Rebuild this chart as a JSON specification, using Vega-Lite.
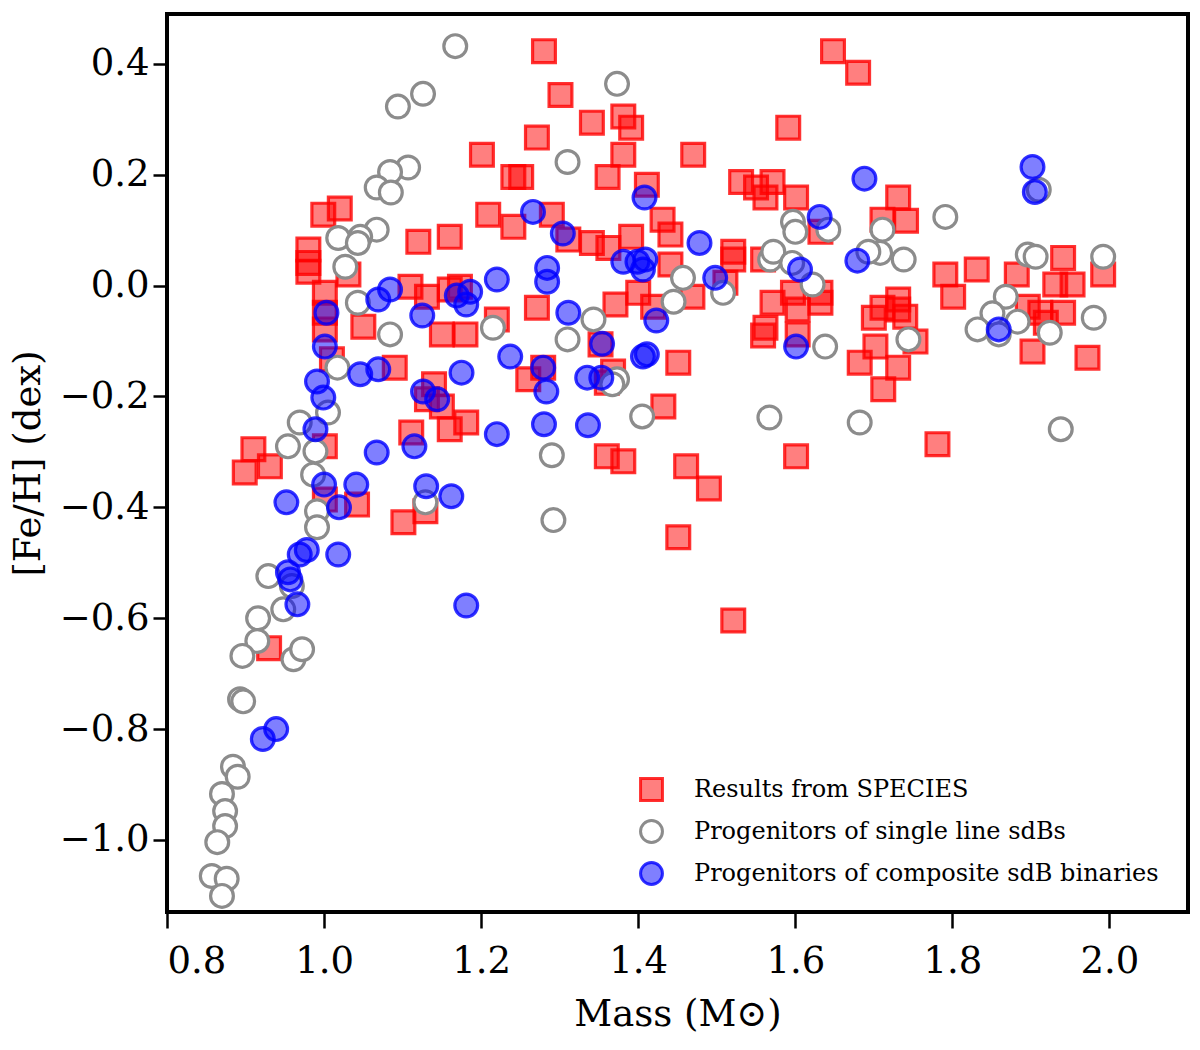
{
  "$schema": "https://vega.github.io/schema/vega-lite/v6.json",
  "description": "Mass vs [Fe/H] for SPECIES results and sdB progenitors",
  "autosize": {"type": "none"},
  "padding": {"left": 167, "top": 14, "right": 12, "bottom": 138},
  "width": 1021,
  "height": 898,
  "background": "white",
  "data": {
    "values": [
      {"group": "Results from SPECIES", "mass": 1.280, "feh": 0.423},
      {"group": "Results from SPECIES", "mass": 1.648, "feh": 0.423},
      {"group": "Results from SPECIES", "mass": 1.680, "feh": 0.384},
      {"group": "Results from SPECIES", "mass": 1.301, "feh": 0.344},
      {"group": "Results from SPECIES", "mass": 1.341, "feh": 0.294},
      {"group": "Results from SPECIES", "mass": 1.381, "feh": 0.305},
      {"group": "Results from SPECIES", "mass": 1.391, "feh": 0.285},
      {"group": "Results from SPECIES", "mass": 1.271, "feh": 0.267},
      {"group": "Results from SPECIES", "mass": 1.591, "feh": 0.285},
      {"group": "Results from SPECIES", "mass": 1.201, "feh": 0.236},
      {"group": "Results from SPECIES", "mass": 1.381, "feh": 0.236},
      {"group": "Results from SPECIES", "mass": 1.470, "feh": 0.236},
      {"group": "Results from SPECIES", "mass": 1.361, "feh": 0.196},
      {"group": "Results from SPECIES", "mass": 1.241, "feh": 0.196},
      {"group": "Results from SPECIES", "mass": 1.251, "feh": 0.196},
      {"group": "Results from SPECIES", "mass": 1.411, "feh": 0.182},
      {"group": "Results from SPECIES", "mass": 1.531, "feh": 0.187},
      {"group": "Results from SPECIES", "mass": 1.550, "feh": 0.177},
      {"group": "Results from SPECIES", "mass": 1.571, "feh": 0.187},
      {"group": "Results from SPECIES", "mass": 1.562, "feh": 0.159},
      {"group": "Results from SPECIES", "mass": 1.601, "feh": 0.159},
      {"group": "Results from SPECIES", "mass": 1.731, "feh": 0.159},
      {"group": "Results from SPECIES", "mass": 1.711, "feh": 0.119},
      {"group": "Results from SPECIES", "mass": 1.741, "feh": 0.117},
      {"group": "Results from SPECIES", "mass": 1.209, "feh": 0.128},
      {"group": "Results from SPECIES", "mass": 1.241, "feh": 0.106},
      {"group": "Results from SPECIES", "mass": 1.290, "feh": 0.128},
      {"group": "Results from SPECIES", "mass": 1.431, "feh": 0.119},
      {"group": "Results from SPECIES", "mass": 1.441, "feh": 0.092},
      {"group": "Results from SPECIES", "mass": 1.311, "feh": 0.083},
      {"group": "Results from SPECIES", "mass": 1.341, "feh": 0.077},
      {"group": "Results from SPECIES", "mass": 1.362, "feh": 0.068},
      {"group": "Results from SPECIES", "mass": 1.391, "feh": 0.088},
      {"group": "Results from SPECIES", "mass": 1.521, "feh": 0.061},
      {"group": "Results from SPECIES", "mass": 1.521, "feh": 0.047},
      {"group": "Results from SPECIES", "mass": 1.441, "feh": 0.038},
      {"group": "Results from SPECIES", "mass": 1.559, "feh": 0.047},
      {"group": "Results from SPECIES", "mass": 1.632, "feh": 0.097},
      {"group": "Results from SPECIES", "mass": 1.271, "feh": -0.040},
      {"group": "Results from SPECIES", "mass": 1.371, "feh": -0.034},
      {"group": "Results from SPECIES", "mass": 1.400, "feh": -0.013},
      {"group": "Results from SPECIES", "mass": 1.419, "feh": -0.038},
      {"group": "Results from SPECIES", "mass": 1.469, "feh": -0.020},
      {"group": "Results from SPECIES", "mass": 1.511, "feh": 0.005},
      {"group": "Results from SPECIES", "mass": 1.571, "feh": -0.031},
      {"group": "Results from SPECIES", "mass": 1.597, "feh": -0.013},
      {"group": "Results from SPECIES", "mass": 1.603, "feh": -0.043},
      {"group": "Results from SPECIES", "mass": 1.632, "feh": -0.031},
      {"group": "Results from SPECIES", "mass": 1.632, "feh": -0.013},
      {"group": "Results from SPECIES", "mass": 1.562, "feh": -0.076},
      {"group": "Results from SPECIES", "mass": 1.559, "feh": -0.090},
      {"group": "Results from SPECIES", "mass": 1.603, "feh": -0.088},
      {"group": "Results from SPECIES", "mass": 1.220, "feh": -0.061},
      {"group": "Results from SPECIES", "mass": 0.999, "feh": 0.128},
      {"group": "Results from SPECIES", "mass": 1.020, "feh": 0.139},
      {"group": "Results from SPECIES", "mass": 1.120, "feh": 0.079},
      {"group": "Results from SPECIES", "mass": 1.160, "feh": 0.088},
      {"group": "Results from SPECIES", "mass": 0.980, "feh": 0.065},
      {"group": "Results from SPECIES", "mass": 0.980, "feh": 0.041},
      {"group": "Results from SPECIES", "mass": 0.980, "feh": 0.025},
      {"group": "Results from SPECIES", "mass": 1.031, "feh": 0.020},
      {"group": "Results from SPECIES", "mass": 1.001, "feh": -0.013},
      {"group": "Results from SPECIES", "mass": 1.110, "feh": -0.002},
      {"group": "Results from SPECIES", "mass": 1.131, "feh": -0.020},
      {"group": "Results from SPECIES", "mass": 1.160, "feh": -0.007},
      {"group": "Results from SPECIES", "mass": 1.173, "feh": -0.002},
      {"group": "Results from SPECIES", "mass": 1.001, "feh": -0.049},
      {"group": "Results from SPECIES", "mass": 1.001, "feh": -0.079},
      {"group": "Results from SPECIES", "mass": 1.050, "feh": -0.074},
      {"group": "Results from SPECIES", "mass": 1.010, "feh": -0.133},
      {"group": "Results from SPECIES", "mass": 1.090, "feh": -0.148},
      {"group": "Results from SPECIES", "mass": 1.150, "feh": -0.088},
      {"group": "Results from SPECIES", "mass": 1.180, "feh": -0.088},
      {"group": "Results from SPECIES", "mass": 1.140, "feh": -0.178},
      {"group": "Results from SPECIES", "mass": 1.131, "feh": -0.205},
      {"group": "Results from SPECIES", "mass": 1.150, "feh": -0.218},
      {"group": "Results from SPECIES", "mass": 1.160, "feh": -0.259},
      {"group": "Results from SPECIES", "mass": 1.181, "feh": -0.247},
      {"group": "Results from SPECIES", "mass": 1.111, "feh": -0.265},
      {"group": "Results from SPECIES", "mass": 1.001, "feh": -0.290},
      {"group": "Results from SPECIES", "mass": 0.910, "feh": -0.295},
      {"group": "Results from SPECIES", "mass": 0.931, "feh": -0.326},
      {"group": "Results from SPECIES", "mass": 0.899, "feh": -0.337},
      {"group": "Results from SPECIES", "mass": 1.042, "feh": -0.395},
      {"group": "Results from SPECIES", "mass": 1.001, "feh": -0.386},
      {"group": "Results from SPECIES", "mass": 1.101, "feh": -0.427},
      {"group": "Results from SPECIES", "mass": 1.129, "feh": -0.407},
      {"group": "Results from SPECIES", "mass": 0.930, "feh": -0.654},
      {"group": "Results from SPECIES", "mass": 1.279, "feh": -0.148},
      {"group": "Results from SPECIES", "mass": 1.260, "feh": -0.169},
      {"group": "Results from SPECIES", "mass": 1.352, "feh": -0.106},
      {"group": "Results from SPECIES", "mass": 1.368, "feh": -0.155},
      {"group": "Results from SPECIES", "mass": 1.360, "feh": -0.175},
      {"group": "Results from SPECIES", "mass": 1.451, "feh": -0.139},
      {"group": "Results from SPECIES", "mass": 1.432, "feh": -0.218},
      {"group": "Results from SPECIES", "mass": 1.360, "feh": -0.308},
      {"group": "Results from SPECIES", "mass": 1.381, "feh": -0.317},
      {"group": "Results from SPECIES", "mass": 1.461, "feh": -0.326},
      {"group": "Results from SPECIES", "mass": 1.490, "feh": -0.366},
      {"group": "Results from SPECIES", "mass": 1.601, "feh": -0.308},
      {"group": "Results from SPECIES", "mass": 1.451, "feh": -0.454},
      {"group": "Results from SPECIES", "mass": 1.521, "feh": -0.604},
      {"group": "Results from SPECIES", "mass": 1.791, "feh": 0.020},
      {"group": "Results from SPECIES", "mass": 1.831, "feh": 0.029},
      {"group": "Results from SPECIES", "mass": 1.801, "feh": -0.020},
      {"group": "Results from SPECIES", "mass": 1.882, "feh": 0.020},
      {"group": "Results from SPECIES", "mass": 1.941, "feh": 0.050},
      {"group": "Results from SPECIES", "mass": 1.931, "feh": 0.002},
      {"group": "Results from SPECIES", "mass": 1.953, "feh": 0.002},
      {"group": "Results from SPECIES", "mass": 1.992, "feh": 0.020},
      {"group": "Results from SPECIES", "mass": 1.731, "feh": -0.025},
      {"group": "Results from SPECIES", "mass": 1.731, "feh": -0.043},
      {"group": "Results from SPECIES", "mass": 1.711, "feh": -0.040},
      {"group": "Results from SPECIES", "mass": 1.700, "feh": -0.058},
      {"group": "Results from SPECIES", "mass": 1.740, "feh": -0.056},
      {"group": "Results from SPECIES", "mass": 1.896, "feh": -0.038},
      {"group": "Results from SPECIES", "mass": 1.912, "feh": -0.049},
      {"group": "Results from SPECIES", "mass": 1.941, "feh": -0.049},
      {"group": "Results from SPECIES", "mass": 1.919, "feh": -0.067},
      {"group": "Results from SPECIES", "mass": 1.753, "feh": -0.101},
      {"group": "Results from SPECIES", "mass": 1.702, "feh": -0.110},
      {"group": "Results from SPECIES", "mass": 1.682, "feh": -0.139},
      {"group": "Results from SPECIES", "mass": 1.731, "feh": -0.148},
      {"group": "Results from SPECIES", "mass": 1.712, "feh": -0.187},
      {"group": "Results from SPECIES", "mass": 1.902, "feh": -0.119},
      {"group": "Results from SPECIES", "mass": 1.972, "feh": -0.130},
      {"group": "Results from SPECIES", "mass": 1.781, "feh": -0.286},

      {"group": "Progenitors of single line sdBs", "mass": 1.167, "feh": 0.432},
      {"group": "Progenitors of single line sdBs", "mass": 1.126, "feh": 0.346},
      {"group": "Progenitors of single line sdBs", "mass": 1.094, "feh": 0.323},
      {"group": "Progenitors of single line sdBs", "mass": 1.107, "feh": 0.213},
      {"group": "Progenitors of single line sdBs", "mass": 1.084, "feh": 0.205},
      {"group": "Progenitors of single line sdBs", "mass": 1.067, "feh": 0.177},
      {"group": "Progenitors of single line sdBs", "mass": 1.085, "feh": 0.168},
      {"group": "Progenitors of single line sdBs", "mass": 1.067, "feh": 0.101},
      {"group": "Progenitors of single line sdBs", "mass": 1.046, "feh": 0.088},
      {"group": "Progenitors of single line sdBs", "mass": 1.018, "feh": 0.086},
      {"group": "Progenitors of single line sdBs", "mass": 1.043, "feh": 0.077},
      {"group": "Progenitors of single line sdBs", "mass": 1.027, "feh": 0.034},
      {"group": "Progenitors of single line sdBs", "mass": 1.043, "feh": -0.031},
      {"group": "Progenitors of single line sdBs", "mass": 1.084, "feh": -0.088},
      {"group": "Progenitors of single line sdBs", "mass": 1.215, "feh": -0.076},
      {"group": "Progenitors of single line sdBs", "mass": 1.017, "feh": -0.148},
      {"group": "Progenitors of single line sdBs", "mass": 1.005, "feh": -0.229},
      {"group": "Progenitors of single line sdBs", "mass": 0.969, "feh": -0.247},
      {"group": "Progenitors of single line sdBs", "mass": 0.954, "feh": -0.290},
      {"group": "Progenitors of single line sdBs", "mass": 0.989, "feh": -0.299},
      {"group": "Progenitors of single line sdBs", "mass": 0.986, "feh": -0.341},
      {"group": "Progenitors of single line sdBs", "mass": 1.129, "feh": -0.391},
      {"group": "Progenitors of single line sdBs", "mass": 0.991, "feh": -0.407},
      {"group": "Progenitors of single line sdBs", "mass": 0.991, "feh": -0.436},
      {"group": "Progenitors of single line sdBs", "mass": 0.929, "feh": -0.524},
      {"group": "Progenitors of single line sdBs", "mass": 0.959, "feh": -0.542},
      {"group": "Progenitors of single line sdBs", "mass": 0.948, "feh": -0.584},
      {"group": "Progenitors of single line sdBs", "mass": 0.916, "feh": -0.600},
      {"group": "Progenitors of single line sdBs", "mass": 0.915, "feh": -0.641},
      {"group": "Progenitors of single line sdBs", "mass": 0.896, "feh": -0.668},
      {"group": "Progenitors of single line sdBs", "mass": 0.961, "feh": -0.674},
      {"group": "Progenitors of single line sdBs", "mass": 0.972, "feh": -0.656},
      {"group": "Progenitors of single line sdBs", "mass": 0.893, "feh": -0.746},
      {"group": "Progenitors of single line sdBs", "mass": 0.897, "feh": -0.750},
      {"group": "Progenitors of single line sdBs", "mass": 0.884, "feh": -0.868},
      {"group": "Progenitors of single line sdBs", "mass": 0.890, "feh": -0.886},
      {"group": "Progenitors of single line sdBs", "mass": 0.870, "feh": -0.917},
      {"group": "Progenitors of single line sdBs", "mass": 0.874, "feh": -0.948},
      {"group": "Progenitors of single line sdBs", "mass": 0.874, "feh": -0.975},
      {"group": "Progenitors of single line sdBs", "mass": 0.864, "feh": -1.004},
      {"group": "Progenitors of single line sdBs", "mass": 0.857, "feh": -1.065},
      {"group": "Progenitors of single line sdBs", "mass": 0.876, "feh": -1.070},
      {"group": "Progenitors of single line sdBs", "mass": 0.870, "feh": -1.101},
      {"group": "Progenitors of single line sdBs", "mass": 1.373, "feh": 0.364},
      {"group": "Progenitors of single line sdBs", "mass": 1.310, "feh": 0.223},
      {"group": "Progenitors of single line sdBs", "mass": 1.597, "feh": 0.115},
      {"group": "Progenitors of single line sdBs", "mass": 1.600, "feh": 0.097},
      {"group": "Progenitors of single line sdBs", "mass": 1.642, "feh": 0.101},
      {"group": "Progenitors of single line sdBs", "mass": 1.568, "feh": 0.047},
      {"group": "Progenitors of single line sdBs", "mass": 1.572, "feh": 0.061},
      {"group": "Progenitors of single line sdBs", "mass": 1.596, "feh": 0.041},
      {"group": "Progenitors of single line sdBs", "mass": 1.622, "feh": 0.002},
      {"group": "Progenitors of single line sdBs", "mass": 1.457, "feh": 0.014},
      {"group": "Progenitors of single line sdBs", "mass": 1.445, "feh": -0.029},
      {"group": "Progenitors of single line sdBs", "mass": 1.508, "feh": -0.013},
      {"group": "Progenitors of single line sdBs", "mass": 1.343, "feh": -0.061},
      {"group": "Progenitors of single line sdBs", "mass": 1.310, "feh": -0.097},
      {"group": "Progenitors of single line sdBs", "mass": 1.373, "feh": -0.169},
      {"group": "Progenitors of single line sdBs", "mass": 1.367, "feh": -0.178},
      {"group": "Progenitors of single line sdBs", "mass": 1.405, "feh": -0.236},
      {"group": "Progenitors of single line sdBs", "mass": 1.567, "feh": -0.238},
      {"group": "Progenitors of single line sdBs", "mass": 1.638, "feh": -0.110},
      {"group": "Progenitors of single line sdBs", "mass": 1.290, "feh": -0.306},
      {"group": "Progenitors of single line sdBs", "mass": 1.292, "feh": -0.423},
      {"group": "Progenitors of single line sdBs", "mass": 1.791, "feh": 0.124},
      {"group": "Progenitors of single line sdBs", "mass": 1.711, "feh": 0.101},
      {"group": "Progenitors of single line sdBs", "mass": 1.708, "feh": 0.059},
      {"group": "Progenitors of single line sdBs", "mass": 1.693, "feh": 0.061},
      {"group": "Progenitors of single line sdBs", "mass": 1.738, "feh": 0.047},
      {"group": "Progenitors of single line sdBs", "mass": 1.896, "feh": 0.056},
      {"group": "Progenitors of single line sdBs", "mass": 1.906, "feh": 0.052},
      {"group": "Progenitors of single line sdBs", "mass": 1.992, "feh": 0.052},
      {"group": "Progenitors of single line sdBs", "mass": 1.910, "feh": 0.173},
      {"group": "Progenitors of single line sdBs", "mass": 1.868, "feh": -0.020},
      {"group": "Progenitors of single line sdBs", "mass": 1.851, "feh": -0.050},
      {"group": "Progenitors of single line sdBs", "mass": 1.883, "feh": -0.065},
      {"group": "Progenitors of single line sdBs", "mass": 1.832, "feh": -0.079},
      {"group": "Progenitors of single line sdBs", "mass": 1.924, "feh": -0.085},
      {"group": "Progenitors of single line sdBs", "mass": 1.980, "feh": -0.058},
      {"group": "Progenitors of single line sdBs", "mass": 1.859, "feh": -0.088},
      {"group": "Progenitors of single line sdBs", "mass": 1.744, "feh": -0.097},
      {"group": "Progenitors of single line sdBs", "mass": 1.682, "feh": -0.247},
      {"group": "Progenitors of single line sdBs", "mass": 1.938, "feh": -0.259},

      {"group": "Progenitors of composite sdB binaries", "mass": 1.220, "feh": 0.011},
      {"group": "Progenitors of composite sdB binaries", "mass": 1.084, "feh": -0.007},
      {"group": "Progenitors of composite sdB binaries", "mass": 1.069, "feh": -0.025},
      {"group": "Progenitors of composite sdB binaries", "mass": 1.169, "feh": -0.018},
      {"group": "Progenitors of composite sdB binaries", "mass": 1.181, "feh": -0.034},
      {"group": "Progenitors of composite sdB binaries", "mass": 1.186, "feh": -0.011},
      {"group": "Progenitors of composite sdB binaries", "mass": 1.003, "feh": -0.049},
      {"group": "Progenitors of composite sdB binaries", "mass": 1.125, "feh": -0.054},
      {"group": "Progenitors of composite sdB binaries", "mass": 1.001, "feh": -0.110},
      {"group": "Progenitors of composite sdB binaries", "mass": 1.046, "feh": -0.160},
      {"group": "Progenitors of composite sdB binaries", "mass": 1.069, "feh": -0.151},
      {"group": "Progenitors of composite sdB binaries", "mass": 0.991, "feh": -0.173},
      {"group": "Progenitors of composite sdB binaries", "mass": 0.999, "feh": -0.202},
      {"group": "Progenitors of composite sdB binaries", "mass": 0.989, "feh": -0.259},
      {"group": "Progenitors of composite sdB binaries", "mass": 1.126, "feh": -0.191},
      {"group": "Progenitors of composite sdB binaries", "mass": 1.144, "feh": -0.205},
      {"group": "Progenitors of composite sdB binaries", "mass": 1.175, "feh": -0.157},
      {"group": "Progenitors of composite sdB binaries", "mass": 1.220, "feh": -0.268},
      {"group": "Progenitors of composite sdB binaries", "mass": 1.067, "feh": -0.301},
      {"group": "Progenitors of composite sdB binaries", "mass": 1.115, "feh": -0.290},
      {"group": "Progenitors of composite sdB binaries", "mass": 1.000, "feh": -0.359},
      {"group": "Progenitors of composite sdB binaries", "mass": 1.041, "feh": -0.359},
      {"group": "Progenitors of composite sdB binaries", "mass": 1.019, "feh": -0.400},
      {"group": "Progenitors of composite sdB binaries", "mass": 0.952, "feh": -0.391},
      {"group": "Progenitors of composite sdB binaries", "mass": 1.130, "feh": -0.362},
      {"group": "Progenitors of composite sdB binaries", "mass": 1.162, "feh": -0.380},
      {"group": "Progenitors of composite sdB binaries", "mass": 1.018, "feh": -0.485},
      {"group": "Progenitors of composite sdB binaries", "mass": 0.969, "feh": -0.485},
      {"group": "Progenitors of composite sdB binaries", "mass": 0.978, "feh": -0.477},
      {"group": "Progenitors of composite sdB binaries", "mass": 0.954, "feh": -0.517},
      {"group": "Progenitors of composite sdB binaries", "mass": 0.957, "feh": -0.530},
      {"group": "Progenitors of composite sdB binaries", "mass": 0.966, "feh": -0.575},
      {"group": "Progenitors of composite sdB binaries", "mass": 1.181, "feh": -0.577},
      {"group": "Progenitors of composite sdB binaries", "mass": 0.922, "feh": -0.818},
      {"group": "Progenitors of composite sdB binaries", "mass": 0.939, "feh": -0.800},
      {"group": "Progenitors of composite sdB binaries", "mass": 1.408, "feh": 0.159},
      {"group": "Progenitors of composite sdB binaries", "mass": 1.266, "feh": 0.133},
      {"group": "Progenitors of composite sdB binaries", "mass": 1.304, "feh": 0.094},
      {"group": "Progenitors of composite sdB binaries", "mass": 1.478, "feh": 0.077},
      {"group": "Progenitors of composite sdB binaries", "mass": 1.631, "feh": 0.124},
      {"group": "Progenitors of composite sdB binaries", "mass": 1.606, "feh": 0.029},
      {"group": "Progenitors of composite sdB binaries", "mass": 1.381, "feh": 0.043},
      {"group": "Progenitors of composite sdB binaries", "mass": 1.399, "feh": 0.043},
      {"group": "Progenitors of composite sdB binaries", "mass": 1.409, "feh": 0.047},
      {"group": "Progenitors of composite sdB binaries", "mass": 1.406, "feh": 0.029},
      {"group": "Progenitors of composite sdB binaries", "mass": 1.498, "feh": 0.014},
      {"group": "Progenitors of composite sdB binaries", "mass": 1.284, "feh": 0.032},
      {"group": "Progenitors of composite sdB binaries", "mass": 1.284, "feh": 0.007},
      {"group": "Progenitors of composite sdB binaries", "mass": 1.311, "feh": -0.049},
      {"group": "Progenitors of composite sdB binaries", "mass": 1.423, "feh": -0.063},
      {"group": "Progenitors of composite sdB binaries", "mass": 1.237, "feh": -0.128},
      {"group": "Progenitors of composite sdB binaries", "mass": 1.279, "feh": -0.148},
      {"group": "Progenitors of composite sdB binaries", "mass": 1.283, "feh": -0.191},
      {"group": "Progenitors of composite sdB binaries", "mass": 1.354, "feh": -0.105},
      {"group": "Progenitors of composite sdB binaries", "mass": 1.411, "feh": -0.124},
      {"group": "Progenitors of composite sdB binaries", "mass": 1.406, "feh": -0.128},
      {"group": "Progenitors of composite sdB binaries", "mass": 1.335, "feh": -0.166},
      {"group": "Progenitors of composite sdB binaries", "mass": 1.353, "feh": -0.166},
      {"group": "Progenitors of composite sdB binaries", "mass": 1.280, "feh": -0.250},
      {"group": "Progenitors of composite sdB binaries", "mass": 1.336, "feh": -0.252},
      {"group": "Progenitors of composite sdB binaries", "mass": 1.601, "feh": -0.110},
      {"group": "Progenitors of composite sdB binaries", "mass": 1.688, "feh": 0.193},
      {"group": "Progenitors of composite sdB binaries", "mass": 1.902, "feh": 0.214},
      {"group": "Progenitors of composite sdB binaries", "mass": 1.905, "feh": 0.169},
      {"group": "Progenitors of composite sdB binaries", "mass": 1.679, "feh": 0.045},
      {"group": "Progenitors of composite sdB binaries", "mass": 1.859, "feh": -0.079}
    ]
  },
  "mark": {"type": "point", "filled": false, "size": 520, "strokeWidth": 3.2, "opacity": 1},
  "encoding": {
    "x": {
      "field": "mass",
      "type": "quantitative",
      "title": "Mass (M⊙)",
      "scale": {"domain": [0.8, 2.1], "nice": false, "zero": false},
      "axis": {"values": [0.8, 1.0, 1.2, 1.4, 1.6, 1.8, 2.0], "format": ".1f", "tickSize": 16, "labelPadding": 15, "titlePadding": 17}
    },
    "y": {
      "field": "feh",
      "type": "quantitative",
      "title": "[Fe/H] (dex)",
      "scale": {"domain": [-1.13, 0.49], "nice": false, "zero": false},
      "axis": {"values": [-1.0, -0.8, -0.6, -0.4, -0.2, 0.0, 0.2, 0.4], "format": ".1f", "tickSize": 14, "labelPadding": 4, "titlePadding": 12}
    },
    "shape": {
      "field": "group",
      "type": "nominal",
      "sort": null,
      "scale": {
        "domain": ["Results from SPECIES", "Progenitors of single line sdBs", "Progenitors of composite sdB binaries"],
        "range": ["square", "circle", "circle"]
      },
      "legend": {"title": null, "orient": "none", "legendX": 472, "legendY": 763}
    },
    "fill": {
      "field": "group",
      "type": "nominal",
      "sort": null,
      "scale": {
        "domain": ["Results from SPECIES", "Progenitors of single line sdBs", "Progenitors of composite sdB binaries"],
        "range": ["rgba(255,0,0,0.5)", "#ffffff", "rgba(0,0,255,0.5)"]
      },
      "legend": {"title": null, "orient": "none", "legendX": 472, "legendY": 763}
    },
    "stroke": {
      "field": "group",
      "type": "nominal",
      "sort": null,
      "scale": {
        "domain": ["Results from SPECIES", "Progenitors of single line sdBs", "Progenitors of composite sdB binaries"],
        "range": ["rgba(255,0,0,0.8)", "#8c8c8c", "rgba(0,0,255,0.8)"]
      },
      "legend": {"title": null, "orient": "none", "legendX": 472, "legendY": 763}
    }
  },
  "config": {
    "font": "DejaVu Serif",
    "view": {"stroke": "black", "strokeWidth": 4},
    "axis": {
      "grid": false,
      "domain": false,
      "ticks": true,
      "tickColor": "black",
      "tickWidth": 2.5,
      "labelFont": "DejaVu Serif",
      "labelFontSize": 37,
      "labelColor": "black",
      "titleFont": "DejaVu Serif",
      "titleFontSize": 37,
      "titleFontWeight": "normal",
      "titleColor": "black"
    },
    "legend": {
      "labelFont": "DejaVu Serif",
      "labelFontSize": 24,
      "labelColor": "black",
      "symbolSize": 480,
      "symbolStrokeWidth": 3,
      "labelOffset": 30,
      "rowPadding": 7,
      "padding": 0,
      "labelLimit": 600
    }
  }
}
